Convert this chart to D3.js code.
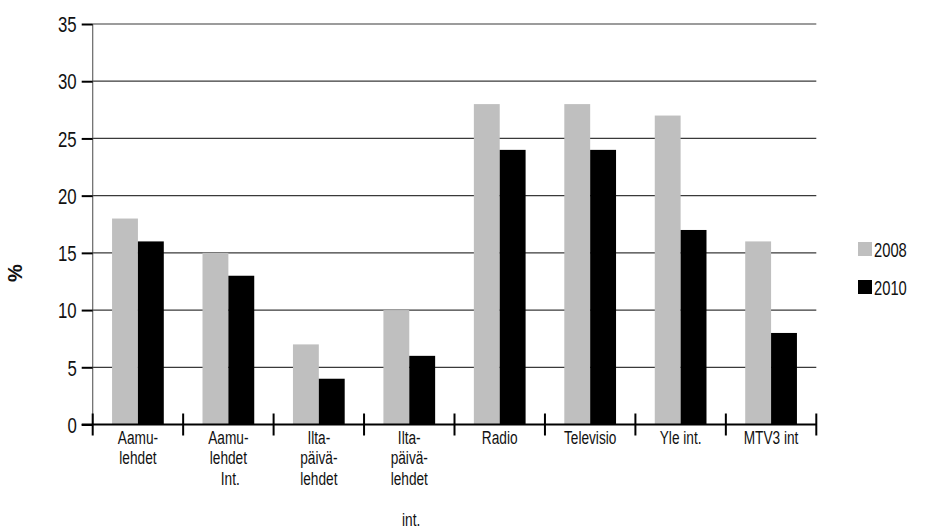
<!DOCTYPE html>
<html>
<head>
<meta charset="utf-8">
<script src="https://cdn.jsdelivr.net/npm/d3@7"></script>
<style>
  html, body { margin: 0; padding: 0; background: #fff; }
  svg text { font-family: "Liberation Sans", Arial, sans-serif; }
</style>
</head>
<body>
<svg id="chart" width="925" height="530"></svg>
<script>
const categories = [
  ["Aamu-", "lehdet"],
  ["Aamu-", "lehdet", " Int."],
  ["Ilta-", "päivä-", "lehdet"],
  ["Ilta-", "päivä-", "lehdet", "", " int."],
  ["Radio"],
  ["Televisio"],
  ["Yle int."],
  ["MTV3 int"]
];
const seriesNames = ["2008", "2010"];
const values2008 = [18, 15, 7, 10, 28, 28, 27, 16];
const values2010 = [16, 13, 4, 6, 24, 24, 17, 8];
const yTicks = [0, 5, 10, 15, 20, 25, 30, 35];
const colors = ["#bfbfbf", "#000000"];

const svg = d3.select("#chart");
const pL = 92.7, pR = 816.3, pT = 24, pB = 424.5;

const x = d3.scaleBand().domain(d3.range(categories.length)).range([pL, pR])
  .paddingInner(0.428).paddingOuter(0.214);
const xSub = d3.scaleBand().domain(seriesNames).range([0, x.bandwidth()]);
const y = d3.scaleLinear().domain([0, 35]).range([pB, pT]);

// condensed text helper
function ctext(sel, tx, ty, str, size, sx, anchor) {
  return sel.append("text")
    .attr("transform", `translate(${tx},${ty}) scale(${sx},1)`)
    .attr("text-anchor", anchor || "start")
    .attr("font-size", size).attr("fill", "#111")
    .style("white-space", "pre")
    .text(str);
}

// gridlines
svg.append("g").selectAll("line").data(yTicks.filter(d => d > 0)).join("line")
  .attr("x1", pL).attr("x2", pR)
  .attr("y1", d => y(d)).attr("y2", d => y(d))
  .attr("stroke", "#3a3a3a").attr("stroke-width", 1.2);

// y axis line
svg.append("line").attr("x1", pL).attr("x2", pL).attr("y1", y(35)).attr("y2", pB)
  .attr("stroke", "#666").attr("stroke-width", 1.2);

// bars
const series = [values2008, values2010];
series.forEach((vals, si) => {
  svg.append("g").selectAll("rect").data(vals).join("rect")
    .attr("x", (d, i) => x(i) + xSub(seriesNames[si]))
    .attr("width", xSub.bandwidth())
    .attr("y", d => y(d))
    .attr("height", d => pB - y(d))
    .attr("fill", colors[si]);
});

// y axis ticks
const yAxis = d3.axisLeft(y).tickValues(yTicks).tickSize(11).tickPadding(6);
const gy = svg.append("g").attr("transform", `translate(${pL},0)`).call(yAxis);
gy.select(".domain").remove();
gy.selectAll(".tick line").attr("stroke", "#000").attr("stroke-width", 2);
gy.selectAll(".tick text")
  .attr("x", null).attr("dy", "0.36em")
  .attr("transform", "translate(-16,0) scale(0.78,1)")
  .attr("font-size", 21.5).attr("fill", "#111")
  .attr("font-family", '"Liberation Sans", Arial, sans-serif');

// x axis line
svg.append("line").attr("x1", pL - 11).attr("x2", pR).attr("y1", pB).attr("y2", pB)
  .attr("stroke", "#000").attr("stroke-width", 2);
// x boundary ticks
const bounds = d3.range(categories.length + 1).map(i => pL + i * x.step());
svg.append("g").selectAll("line").data(bounds).join("line")
  .attr("x1", d => d).attr("x2", d => d).attr("y1", pB - 11).attr("y2", pB + 11)
  .attr("stroke", "#000").attr("stroke-width", 2);

// x labels
const gx = svg.append("g");
categories.forEach((lines, i) => {
  lines.forEach((ln, j) => {
    if (ln) ctext(gx, x(i) + x.bandwidth() / 2, 443.5 + j * 20.5, ln, 19, 0.72, "middle");
  });
});

// y title
svg.append("text").attr("transform", "translate(22,273) rotate(-90)")
  .attr("text-anchor", "middle").attr("font-size", 20).attr("font-weight", "bold")
  .attr("fill", "#111").text("%");

// legend
const leg = svg.append("g").selectAll("g").data(seriesNames).join("g")
  .attr("transform", (d, i) => `translate(858,${242 + i * 38})`);
leg.append("rect").attr("width", 14).attr("height", 14).attr("fill", (d, i) => colors[i]);
leg.each(function(d) { ctext(d3.select(this), 16, 14.5, d, 20.5, 0.72, "start"); });
</script>
</body>
</html>
